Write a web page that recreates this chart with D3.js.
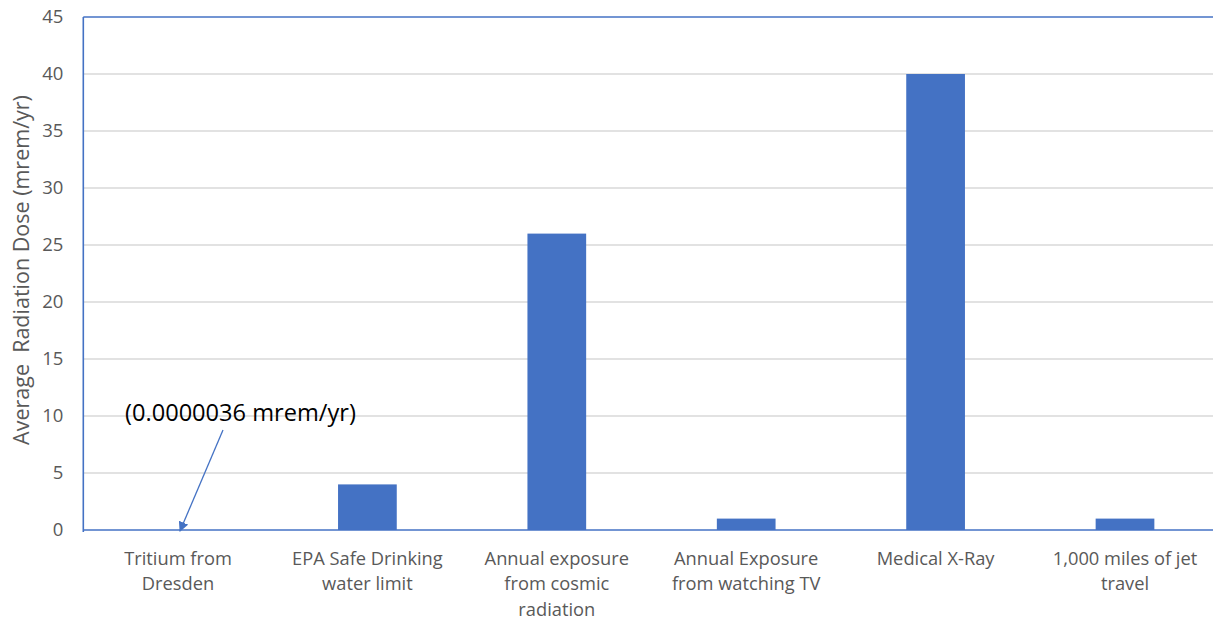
<!DOCTYPE html>
<html><head><meta charset="utf-8">
<script src="https://cdn.jsdelivr.net/npm/d3@7"></script>
<style>body{margin:0;background:#fff}svg{display:block}</style>
</head><body>
<svg id="c" width="1213" height="621"></svg>
<script>
const categories = [
  ["Tritium from", "Dresden"],
  ["EPA Safe Drinking", "water limit"],
  ["Annual exposure", "from cosmic", "radiation"],
  ["Annual Exposure", "from watching TV"],
  ["Medical X-Ray"],
  ["1,000 miles of jet", "travel"]
];
const values = [0.0000036, 4, 26, 1, 40, 1];
const yTicks = [0, 5, 10, 15, 20, 25, 30, 35, 40, 45];
const yTitle = "Average  Radiation Dose (mrem/yr)";
const annotation = "(0.0000036 mrem/yr)";

(function () {
const svg = d3.select("#c");
const pLeft = 83.3, pTop = 17, pBottom = 530, bandW = 189.4;
const pRight = pLeft + bandW * categories.length;
const font = "'Open Sans', 'Noto Sans', sans-serif";
const gray = "#595959", blue = "#4472C4";

const x = d3.scaleBand().domain(d3.range(categories.length)).range([pLeft, pRight]).paddingInner(0.69).paddingOuter(0.345);
const y = d3.scaleLinear().domain([0, 45]).range([pBottom, pTop]);

// gridlines
svg.append("g").selectAll("line").data(yTicks.filter(t => t > 0 && t < 45)).join("line")
  .attr("x1", pLeft).attr("x2", 1213).attr("y1", d => y(d)).attr("y2", d => y(d))
  .attr("stroke", "#d9d9d9").attr("stroke-width", 1.3);

// bars
svg.append("g").selectAll("rect").data(values).join("rect")
  .attr("x", (d, i) => x(i)).attr("width", x.bandwidth())
  .attr("y", d => y(d)).attr("height", d => pBottom - y(d))
  .attr("fill", blue);

// frame
svg.append("line").attr("x1", pLeft).attr("x2", 1213).attr("y1", y(45)).attr("y2", y(45)).attr("stroke", blue).attr("stroke-width", 1.6);
svg.append("line").attr("x1", pLeft).attr("x2", 1213).attr("y1", y(0)).attr("y2", y(0)).attr("stroke", blue).attr("stroke-width", 1.6);
svg.append("line").attr("x1", pLeft).attr("x2", pLeft).attr("y1", y(45)).attr("y2", y(0) + 2).attr("stroke", blue).attr("stroke-width", 1.6);

// y axis ticks
const yAxis = d3.axisLeft(y).tickValues(yTicks).tickSize(0).tickPadding(20);
const ya = svg.append("g").attr("transform", `translate(${pLeft},0)`).call(yAxis);
ya.select(".domain").remove();
ya.selectAll("text").attr("font-family", font).attr("font-size", 18.5).attr("fill", gray);

// category labels
const cl = svg.append("g");
categories.forEach((lines, i) => {
  const t = cl.append("text").attr("text-anchor", "middle")
    .attr("font-family", font).attr("font-size", 18.3).attr("fill", gray);
  lines.forEach((ln, j) => {
    t.append("tspan").attr("x", x(i) + x.bandwidth() / 2).attr("y", 564.5 + j * 25.5).text(ln);
  });
});

// y title
svg.append("text").attr("transform", "translate(29,270) rotate(-90)")
  .attr("text-anchor", "middle").attr("font-family", font).attr("font-size", 21.5)
  .attr("fill", gray).style("white-space", "pre").text(yTitle);

// annotation
svg.append("text").attr("x", 125).attr("y", 421).attr("font-family", font)
  .attr("font-size", 23.6).attr("fill", "#000").text(annotation);
svg.append("defs").append("marker").attr("id", "ah").attr("viewBox", "0 0 10 10")
  .attr("refX", 9).attr("refY", 5).attr("markerWidth", 10).attr("markerHeight", 10)
  .attr("markerUnits", "userSpaceOnUse").attr("orient", "auto")
  .append("path").attr("d", "M0,0L10,5L0,10Z").attr("fill", blue);
const cx0 = x(0) + x.bandwidth() / 2;
svg.append("line").attr("x1", 223).attr("y1", 430).attr("x2", cx0 + 2).attr("y2", y(values[0]) + 1)
  .attr("stroke", blue).attr("stroke-width", 1.3).attr("marker-end", "url(#ah)");
})();
</script>
</body></html>
